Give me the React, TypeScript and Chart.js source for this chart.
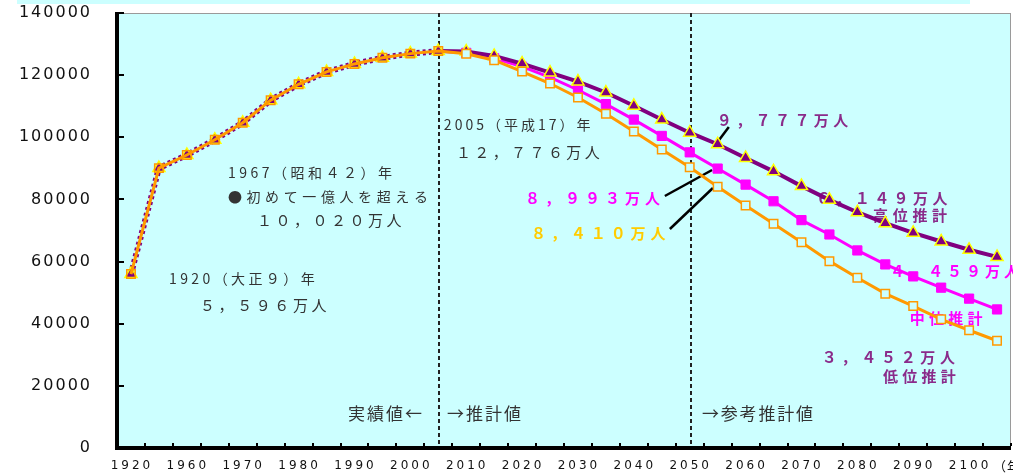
import React, { useEffect, useRef } from 'react';
import { Chart, registerables } from 'chart.js';

Chart.register(...registerables);

// ---- data ----
const years = [
  '1920', '1955', '1960', '1965', '1970', '1975', '1980', '1985', '1990', '1995', '2000', '2005',
  '2010', '2015', '2020', '2025', '2030', '2035', '2040', '2045', '2050', '2055',
  '2060', '2065', '2070', '2075', '2080', '2085', '2090', '2095', '2100', '2105',
];
const xTickLabels = ['1920', '1960', '1970', '1980', '1990', '2000', '2010', '2020', '2030', '2040', '2050', '2060', '2070', '2080', '2090', '2100'];
const xUnitLabel = '（年）';
const yTicks = [0, 20000, 40000, 60000, 80000, 100000, 120000, 140000];

// actual population (thousand persons), 1920 and 1955-2005
const actual = [55963, 90077, 94302, 99209, 104665, 111940, 117060, 121049, 123611, 125570, 126926, 127768];
// projections 2010-2105
const highProj = [127600, 126190, 123720, 120830, 117940, 114410, 110140, 105710, 101470, 97765, 93340, 89040, 84290, 79860, 75880, 72340, 69260, 66470, 63800, 61493];
const mediumProj = [127176, 125430, 122735, 119270, 115224, 110679, 105695, 100443, 95152, 89930, 84770, 79410, 73340, 68720, 63580, 59080, 55230, 51600, 48070, 44592];
const lowProj = [126900, 124810, 121150, 117300, 112800, 107600, 101890, 96070, 90330, 84095, 78030, 72150, 66240, 60140, 54810, 49670, 45690, 41420, 37890, 34521];

// ---- styles ----
const BG = '#CCFFFF';
const PURPLE = '#800080';
const MAGENTA = '#FF00FF';
const ORANGE = '#FF9900';
const DARK = '#333333';
const PURPLE_TXT = '#8a2b8a';
const GOLD_TXT = '#FFCC00';
const JP = '"Noto Sans CJK JP", "Noto Sans", sans-serif';

type Note = { text: string; i: number; v: number; color: string; size: number; ls: number; bold?: boolean };
const notes: Note[] = [
  { text: '1967（昭和４２）年', i: 3.47, v: 88600, color: DARK, size: 14, ls: 3.5 },
  { text: '●初めて一億人を超える', i: 3.47, v: 80780, color: DARK, size: 14, ls: 4.6 },
  { text: '１０，０２０万人', i: 4.51, v: 73380, color: DARK, size: 15, ls: 3.5 },
  { text: '1920（大正９）年', i: 1.36, v: 54390, color: DARK, size: 14, ls: 3.4 },
  { text: '５，５９６万人', i: 2.47, v: 46020, color: DARK, size: 15, ls: 3.6 },
  { text: '実績値←', i: 7.77, v: 10940, color: DARK, size: 17, ls: 2 },
  { text: '→推計値', i: 11.31, v: 10940, color: DARK, size: 17, ls: 2 },
  { text: '→参考推計値', i: 20.44, v: 10940, color: DARK, size: 17, ls: 1.8 },
  { text: '2005（平成17）年', i: 11.2, v: 103950, color: DARK, size: 14, ls: 3 },
  { text: '１２，７７６万人', i: 11.63, v: 95260, color: DARK, size: 15, ls: 3.4 },
  { text: '９，７７７万人', i: 20.97, v: 105560, color: PURPLE_TXT, size: 15, ls: 4.4, bold: true },
  { text: '８，９９３万人', i: 14.1, v: 80460, color: MAGENTA, size: 15, ls: 5, bold: true },
  { text: '８，４１０万人', i: 14.32, v: 69200, color: GOLD_TXT, size: 15, ls: 4.9, bold: true },
  { text: '６，１４９万人', i: 24.52, v: 80460, color: PURPLE_TXT, size: 15, ls: 4.4, bold: true },
  { text: '高位推計', i: 26.56, v: 74990, color: PURPLE_TXT, size: 15, ls: 4.7, bold: true },
  { text: '４，４５９万人', i: 27.17, v: 56970, color: MAGENTA, size: 15, ls: 4, bold: true },
  { text: '中位推計', i: 27.88, v: 41840, color: MAGENTA, size: 15, ls: 4.2, bold: true },
  { text: '３，４５２万人', i: 24.73, v: 29290, color: PURPLE_TXT, size: 15, ls: 4.7, bold: true },
  { text: '低位推計', i: 26.92, v: 23170, color: PURPLE_TXT, size: 15, ls: 4.2, bold: true },
];

const leaders = [
  { i1: 21.4, v1: 103310, i2: 20.97, v2: 98160 },
  { i1: 19.11, v1: 81100, i2: 20.8, v2: 89470 },
  { i1: 19.29, v1: 70480, i2: 20.83, v2: 83680 },
];

const dividers = ['2005', '2050'];

const nHist = actual.length;

const decor = {
  id: 'decor',
  beforeDatasetsDraw(chart: any) {
    const { ctx, chartArea: a, scales } = chart;
    const x = scales.x;
    const y = scales.y;
    ctx.save();
    ctx.fillStyle = BG;
    ctx.fillRect(a.left, a.top, a.right - a.left, a.bottom - a.top);
    ctx.strokeStyle = '#9a9a9a';
    ctx.lineWidth = 1;
    ctx.strokeRect(a.left + 0.5, a.top + 0.5, a.right - a.left - 1, a.bottom - a.top);

    // dashed dividers
    ctx.strokeStyle = '#222';
    ctx.lineWidth = 2;
    ctx.setLineDash([4, 3]);
    dividers.forEach((d) => {
      const px = Math.round(x.getPixelForValue(years.indexOf(d))) + 1;
      ctx.beginPath();
      ctx.moveTo(px, a.top);
      ctx.lineTo(px, a.bottom);
      ctx.stroke();
    });
    ctx.setLineDash([]);

    // annotations
    ctx.textBaseline = 'middle';
    ctx.textAlign = 'left';
    notes.forEach((n) => {
      ctx.font = `${n.bold ? 'bold ' : ''}${n.size}px ${JP}`;
      (ctx as any).letterSpacing = `${n.ls}px`;
      ctx.fillStyle = n.color;
      ctx.fillText(n.text, x.getPixelForValue(n.i), y.getPixelForValue(n.v));
    });
    (ctx as any).letterSpacing = '0px';

    // leader lines
    ctx.strokeStyle = '#000';
    ctx.lineWidth = 2.5;
    leaders.forEach((l) => {
      ctx.beginPath();
      ctx.moveTo(x.getPixelForValue(l.i1), y.getPixelForValue(l.v1));
      ctx.lineTo(x.getPixelForValue(l.i2), y.getPixelForValue(l.v2));
      ctx.stroke();
    });
    ctx.restore();
  },
  afterDraw(chart: any) {
    const { ctx, chartArea: a, scales } = chart;
    const x = scales.x;
    const y = scales.y;
    ctx.save();
    ctx.fillStyle = '#000';
    // y axis line and inner ticks
    ctx.fillRect(a.left - 2, a.top - 1, 4, a.bottom - a.top + 3);
    yTicks.forEach((v) => {
      const py = Math.round(y.getPixelForValue(v));
      ctx.fillRect(a.left, py - 1, 7, 2);
    });
    // x axis line and ticks at category boundaries
    ctx.fillRect(a.left - 2, a.bottom - 2, a.right - a.left + 2, 4);
    const step = x.getPixelForValue(1) - x.getPixelForValue(0);
    for (let i = 0; i < years.length; i++) {
      const bx = Math.round(x.getPixelForValue(i) + step / 2);
      ctx.fillRect(bx - 1, a.bottom - 5, 2, 3);
    }
    // y labels
    ctx.fillStyle = '#111';
    ctx.font = '16px "DejaVu Sans", sans-serif';
    (ctx as any).letterSpacing = '2px';
    ctx.textAlign = 'right';
    ctx.textBaseline = 'middle';
    yTicks.forEach((v) => {
      ctx.fillText(String(v), a.left - 25, y.getPixelForValue(v));
    });
    // x labels
    ctx.font = '12px "DejaVu Sans", sans-serif';
    (ctx as any).letterSpacing = '3px';
    ctx.textAlign = 'center';
    years.forEach((yr, i) => {
      if (xTickLabels.includes(yr)) {
        ctx.fillText(yr, x.getPixelForValue(i) + 1, a.bottom + 18);
      }
    });
    ctx.textAlign = 'left';
    (ctx as any).letterSpacing = '1px';
    ctx.font = `13px ${JP}`;
    ctx.fillText(xUnitLabel, x.getPixelForValue(years.length - 1) - 4, a.bottom + 18);
    (ctx as any).letterSpacing = '0px';
    ctx.restore();
  },
};

export default function App() {
  const ref = useRef<HTMLCanvasElement>(null);
  useEffect(() => {
    const canvas = ref.current;
    if (!canvas) return;
    const high = [...actual, ...highProj];
    const low = [...actual, ...lowProj];
    const medium: (number | null)[] = [...actual.map((v, i) => (i === nHist - 1 ? v : null)), ...mediumProj];
    const chart = new Chart(canvas, {
      type: 'line',
      data: {
        labels: years,
        datasets: [
          {
            label: '高位推計',
            data: high,
            borderColor: PURPLE,
            borderWidth: 4,
            pointStyle: 'triangle',
            pointRadius: 7,
            pointBackgroundColor: PURPLE,
            pointBorderColor: '#FFFF00',
            pointBorderWidth: 1.5,
            order: 2,
            segment: {
              borderWidth: (c: any) => (c.p1DataIndex < nHist ? 6 : 4),
              borderDash: (c: any) => (c.p1DataIndex < nHist ? [3, 3] : undefined),
            },
          } as any,
          {
            label: '中位推計',
            data: medium,
            borderColor: MAGENTA,
            borderWidth: 3,
            pointStyle: 'rect',
            pointRadius: (c: any) => (c.dataIndex < nHist ? 0 : 6.5),
            pointBackgroundColor: MAGENTA,
            pointBorderColor: MAGENTA,
            pointBorderWidth: 1,
            order: 3,
          } as any,
          {
            label: '低位推計',
            data: low,
            borderColor: ORANGE,
            borderWidth: 3,
            pointStyle: 'rect',
            pointRadius: 6,
            pointBackgroundColor: (c: any) => (c.dataIndex < nHist ? 'rgba(0,0,0,0)' : BG),
            pointBorderColor: ORANGE,
            pointBorderWidth: 1.5,
            order: 1,
          } as any,
        ],
      },
      options: {
        responsive: false,
        animation: false,
        events: [],
        layout: { autoPadding: false, padding: { left: 117, top: 13, right: 2, bottom: 27 } },
        plugins: { legend: { display: false }, tooltip: { enabled: false } },
        elements: { line: { tension: 0 } },
        scales: {
          x: { display: false, offset: true },
          y: { display: false, min: 0, max: 140000 },
        },
      },
      plugins: [decor],
    });
    return () => chart.destroy();
  }, []);
  return (
    <div style={{ position: 'absolute', left: 0, top: 0, width: 1013, height: 475, background: '#fff', overflow: 'hidden' }}>
      <canvas ref={ref} width={1013} height={475} style={{ display: 'block', width: 1013, height: 475 }} />
      <div style={{ position: 'absolute', left: 17, top: 0, width: 953, height: 4, background: BG }} />
    </div>
  );
}
